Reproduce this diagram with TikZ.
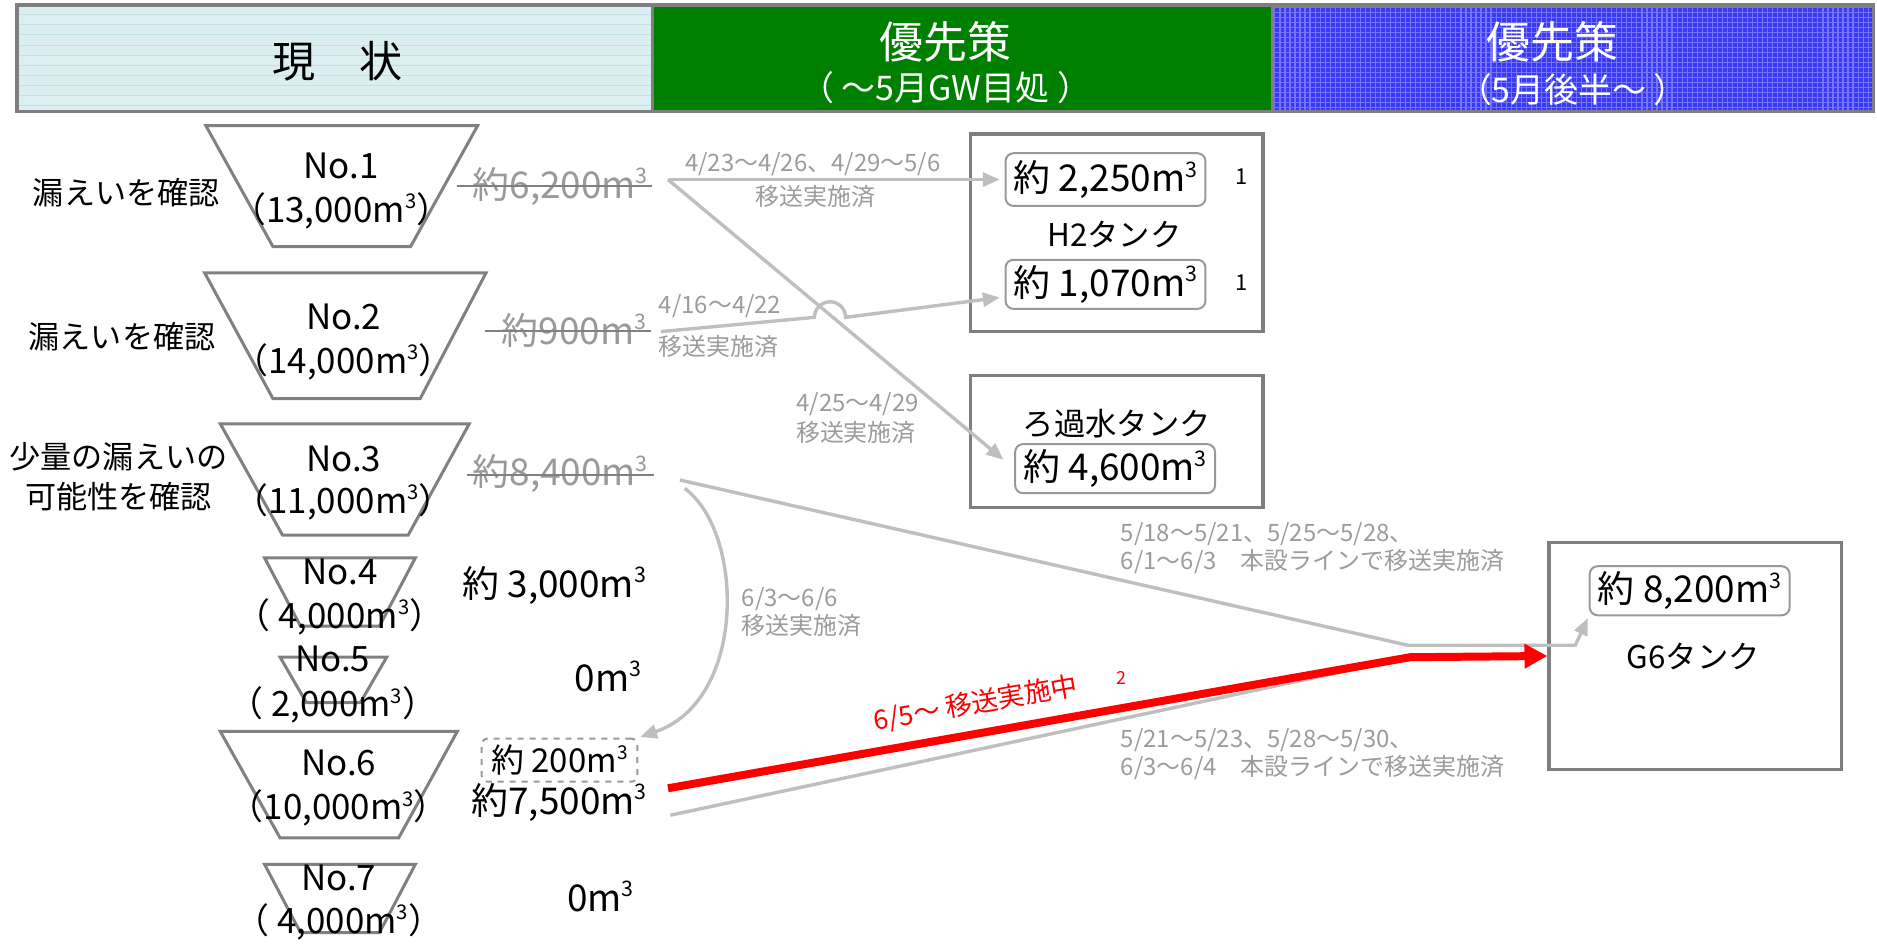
\documentclass[tikz,border=0pt]{standalone}
\usepackage{fontspec}
\usepackage{graphicx}
\setmainfont{Noto Sans CJK JP}
\usetikzlibrary{arrows.meta,calc}
\definecolor{trapgray}{HTML}{808080}
\definecolor{boxgray}{HTML}{7F7F7F}
\definecolor{conngray}{HTML}{BFBFBF}
\definecolor{lblgray}{HTML}{9C9C9C}
\definecolor{strikegray}{HTML}{999999}
\definecolor{strikeline}{HTML}{808080}
\definecolor{cyanbg}{HTML}{DCEFF0}
\definecolor{cyanline}{HTML}{C3E2E5}
\definecolor{hgreen}{HTML}{008000}
\definecolor{hblue}{HTML}{3A3AF4}
\definecolor{bluegrid}{HTML}{7474FF}
\definecolor{redline}{HTML}{FF0000}
\newcommand{\cub}{\raisebox{0.72ex}{\scalebox{0.58}{3}}}
\begin{document}
\begin{tikzpicture}[x=0.6pt,y=-0.6pt,
  trap/.style={draw=trapgray,line width=1.5pt},
  bigtxt/.style={font=\fontsize{17.5}{21}\selectfont,inner sep=0pt},
  voltxt/.style={font=\fontsize{18.5}{22}\selectfont,inner sep=0pt},
  striketxt/.style={voltxt,text=strikegray},
  sidetxt/.style={font=\fontsize{15.6}{19}\selectfont,inner sep=0pt},
  lbl/.style={font=\fontsize{12}{14.4}\selectfont,text=lblgray,inner sep=0pt,align=center},
  lbll/.style={font=\fontsize{12}{14}\selectfont,text=lblgray,inner sep=0pt,align=left,anchor=west},
  tankbox/.style={draw=boxgray,line width=1.6pt,inner sep=0pt},
  volbox/.style={draw=strikegray,line width=1pt,rounded corners=4pt,inner sep=0pt,
     font=\fontsize{18.5}{22}\selectfont,minimum width=100.2pt},
  tanklbl/.style={font=\fontsize{15.7}{19}\selectfont,inner sep=0pt},
  conn/.style={draw=conngray,line width=1.7pt},
  garrow/.style={-{Triangle[length=8.5pt,width=7pt]}},
  strike/.style={draw=strikeline,line width=1.1pt},
  hdr/.style={inner sep=0pt,align=center},
  note/.style={font=\fontsize{11}{13}\selectfont,inner sep=0pt}
]
\useasboundingbox (0,0) rectangle (1568,788);
\fill[white] (0,0) rectangle (1568,788);

% ---------- header ----------
\fill[cyanbg] (14,4) rectangle (545,93);
\foreach \i in {1,...,10} \draw[cyanline,line width=0.5pt] (14,{4+8.4*\i}) -- (545,{4+8.4*\i});
\fill[hgreen] (545,4) rectangle (1063,93);
\fill[hblue] (1063,4) rectangle (1565,93);
\foreach \i in {0,...,119} \draw[bluegrid,line width=0.6pt] ({1065+4.2*\i},4) -- ++(0,89);
\foreach \i in {0,...,20} \draw[bluegrid,line width=0.6pt] (1063,{6+4.2*\i}) -- (1565,{6+4.2*\i});
\draw[draw=boxgray,line width=1.8pt] (14,4) rectangle (1565,93);
\draw[draw=boxgray,line width=1.8pt] (545,4) -- (545,93);
\draw[draw=boxgray,line width=1.8pt] (1063,4) -- (1063,93);
\node[hdr,font=\fontsize{21.6}{24}\selectfont] (h1) at (282,51.5) {現　状};
\node[hdr,text=white,font=\fontsize{22}{24}\selectfont] (h2t) at (790,35) {優先策};
\node[hdr,text=white,font=\fontsize{17}{20}\selectfont] (h2s) at (790,73) {（ ～5月GW目処 ）};
\node[hdr,text=white,font=\fontsize{22}{24}\selectfont] (h3t) at (1297,35) {優先策};
\node[hdr,text=white,font=\fontsize{17}{20}\selectfont] (h3s) at (1314,75) {（5月後半～ ）};

% ---------- left labels ----------
\node[sidetxt] (s1) at (105.5,161) {漏えいを確認};
\node[sidetxt] (s2) at (102,281) {漏えいを確認};
\node[sidetxt,align=center,font=\fontsize{15.6}{20}\selectfont] (s3) at (99,398) {少量の漏えいの\\可能性を確認};

% ---------- pits (trapezoids) ----------
\draw[trap] (172,105)--(399,105)--(343,206)--(228,206)--cycle;
\draw[trap] (171,228)--(406,228)--(351,333)--(228,333)--cycle;
\draw[trap] (184,354)--(392,354)--(341,447)--(236,447)--cycle;
\draw[trap] (221,466)--(347,466)--(317,523)--(251,523)--cycle;
\draw[trap] (234,549)--(323,549)--(301,587)--(256,587)--cycle;
\draw[trap] (184,611)--(382,611)--(333,700)--(234,700)--cycle;
\draw[trap] (221,722)--(347,722)--(317,779)--(251,779)--cycle;

\node[bigtxt] (p1a) at (285,139) {No.1};
\node[bigtxt] (p1b) at (285,176) {（13,000m\cub）};
\node[bigtxt] (p2a) at (287,264.5) {No.2};
\node[bigtxt] (p2b) at (287,302) {（14,000m\cub）};
\node[bigtxt] (p3a) at (287,383) {No.3};
\node[bigtxt] (p3b) at (287,419) {（11,000m\cub）};
\node[bigtxt] (p4a) at (284,477.5) {No.4};
\node[bigtxt] (p4b) at (284,515) {（ 4,000m\cub ）};
\node[bigtxt] (p5a) at (278,550.5) {No.5};
\node[bigtxt] (p5b) at (278,589) {（ 2,000m\cub ）};
\node[bigtxt] (p6a) at (283,637.5) {No.6};
\node[bigtxt] (p6b) at (283,675) {（10,000m\cub）};
\node[bigtxt] (p7a) at (283,733.5) {No.7};
\node[bigtxt] (p7b) at (283,770) {（ 4,000m\cub ）};

% ---------- volumes ----------
\node[striketxt] (v1) at (468,155.5) {約6,200m\cub};
\draw[strike] (381.5,155.5) -- (544.5,155.5);
\node[striketxt] (v2) at (479.5,276) {約900m\cub};
\draw[strike] (405.5,276.5) -- (543.5,276.5);
\node[striketxt] (v3) at (468,395.5) {約8,400m\cub};
\draw[strike] (390,397) -- (546,397);
\node[voltxt] (v4) at (463,489) {約 3,000m\cub};
\node[voltxt] (v5) at (508,565) {0m\cub};
\node[draw=strikegray,dashed,line width=1pt,rounded corners=3pt,minimum width=78pt,minimum height=21.6pt,inner sep=0pt,font=\fontsize{16.5}{19}\selectfont] (v200) at (467.4,635) {約 200m\cub};
\node[voltxt] (v6) at (467,670) {約7,500m\cub};
\node[voltxt] (v7) at (501.6,749) {0m\cub};

% ---------- tanks ----------
\node[tankbox,minimum width=146.4pt,minimum height=99pt] (h2) at (933,194.5) {};
\node[volbox,minimum height=26.4pt] (v2250) at (923.5,150) {約 2,250m\cub};
\node[tanklbl] (h2l) at (931,196) {H2タンク};
\node[volbox,minimum height=24.6pt] (v1070) at (923.5,237.5) {約 1,070m\cub};
\node[note] (m1) at (1037,147.6) {1};
\node[note] (m2) at (1037,236) {1};

\node[tankbox,minimum width=146.4pt,minimum height=66pt] (rk) at (933,369) {};
\node[tanklbl] (rkl) at (933,353.5) {ろ過水タンク};
\node[volbox,minimum height=24.6pt] (v4600) at (931.5,391.5) {約 4,600m\cub};

\node[tankbox,minimum width=146.4pt,minimum height=114pt] (g6) at (1416,548) {};
\node[volbox,minimum height=24.6pt] (v8200) at (1411.5,493.5) {約 8,200m\cub};
\node[tanklbl] (g6l) at (1414.5,548.6) {G6タンク};

% ---------- connectors ----------
\coordinate (n1o) at (558,150);
\coordinate (n2o) at (552,277);
\coordinate (n3a) at (568,401);
\coordinate (n3b) at (572,408);
\coordinate (n6a) at (558,658.5);
\coordinate (n6b) at (560,681);
\coordinate (j1) at (1176,539);
\coordinate (j1b) at (1316,539);
\coordinate (j2) at (1178,549);
\coordinate (hopl) at (680.4,265.1);

\draw[conn,garrow,shorten >=2.4pt] (n1o) -- (v2250.west);
\draw[conn,garrow,shorten >=7pt] (n1o) -- (v4600.west);
\draw[conn,garrow,shorten >=2.4pt] (n2o) -- (hopl) arc[start angle=180,end angle=0,radius=7.8pt] -- ([yshift=-6.3pt]v1070.west);
\draw[conn,garrow,shorten >=1pt] (n3b) .. controls (622,445) and (624,585) .. (v200.north east);
\draw[conn,garrow,shorten >=1pt] (n3a) -- (j1) -- (j1b) -- (v8200.south west);
\draw[conn] (n6b) -- (j2);
\draw[draw=redline,line width=4pt,-{Triangle[length=11.5pt,width=11.7pt]}] (n6a) -- (j2) -- (g6.west);

% ---------- labels ----------
\node[lbl] (l1a) at (679,137) {4/23～4/26、4/29～5/6};
\node[lbl] (l1b) at (681,164) {移送実施済};
\node[lbl] (l2a) at (601.5,256) {4/16～4/22};
\node[lbl] (l2b) at (600,289.5) {移送実施済};
\node[lbl] (l3a) at (716.5,338) {4/25～4/29};
\node[lbl] (l3b) at (715,361.5) {移送実施済};
\node[lbll] (l4) at (619.5,511) {6/3～6/6\\移送実施済};
\node[lbll] (l5) at (936,458) {5/18～5/21、5/25～5/28、\\6/1～6/3　本設ラインで移送実施済};
\node[lbll] (l6) at (936,630) {5/21～5/23、5/28～5/30、\\6/3～6/4　本設ラインで移送実施済};
\node[inner sep=0pt,text=redline,rotate=10,font=\fontsize{13.4}{16}\selectfont] (rl) at (815,588) {6/5～ 移送実施中};
\node[inner sep=0pt,text=redline,font=\fontsize{9}{11}\selectfont] (rn) at (936.5,566) {2};
\end{tikzpicture}
\end{document}
